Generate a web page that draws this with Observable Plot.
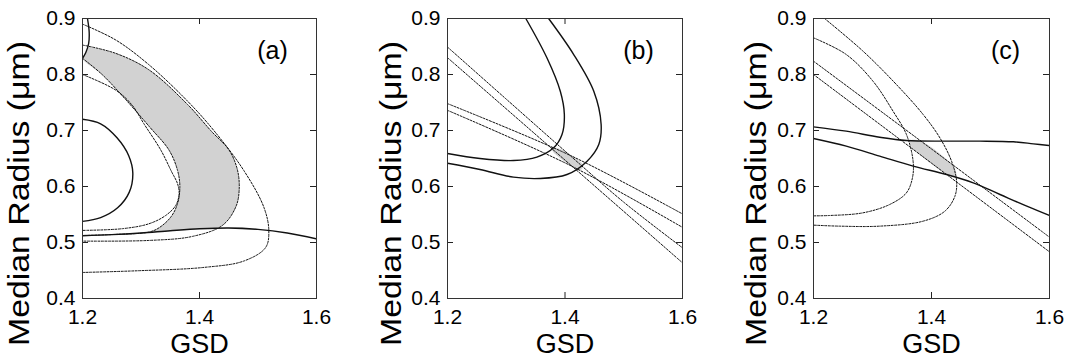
<!DOCTYPE html>
<html><head><meta charset="utf-8">
<script src="https://cdn.jsdelivr.net/npm/d3@7"></script>
<script src="https://cdn.jsdelivr.net/npm/@observablehq/plot@0.6"></script>
<style>
body{margin:0;background:#fff;}
#wrap{position:relative;width:1068px;height:364px;overflow:hidden;}
.panel{position:absolute;top:0;}
</style></head><body><div id="wrap"></div>
<script>
const xTicks = [1.2, 1.4, 1.6];
const yTicks = [0.4, 0.5, 0.6, 0.7, 0.8, 0.9];
const xLabel = "GSD";
const yLabel = "Median Radius (μm)";
const panelLabels = ["(a)", "(b)", "(c)"];

// ---- panel (a) ----
const aSolidEllipse = [[1.2,0.72],[1.231,0.712],[1.259,0.687],[1.279,0.655],[1.286,0.624],[1.28,0.59],[1.26,0.562],[1.231,0.5445],[1.2,0.5378]];
const aSolidArc = [[1.2085,0.9],[1.2114,0.876],[1.2105,0.855],[1.2055,0.839],[1.2,0.829]];
const aSolidLow = [[1.2,0.512],[1.25,0.514],[1.3,0.517],[1.35,0.521],[1.4,0.5245],[1.45,0.526],[1.5,0.5235],[1.55,0.517],[1.6,0.5065]];
const aDashA = [[1.2,0.890],[1.257,0.8615],[1.314,0.817],[1.38,0.752],[1.4245,0.700],[1.4758,0.6285],[1.51,0.563],[1.5185,0.521],[1.513,0.491],[1.476,0.467],[1.4074,0.4555],[1.2934,0.4495],[1.2,0.4465]];
const aDashB = [[1.2,0.8526],[1.257,0.8377],[1.314,0.808],[1.38,0.746],[1.42,0.699],[1.4507,0.6648],[1.465,0.629],[1.4678,0.5933],[1.462,0.5634],[1.4393,0.5306],[1.388,0.5109],[1.314,0.5037],[1.2,0.5025]];
const aDashC = [[1.2,0.829],[1.234,0.7995],[1.274,0.755],[1.315,0.706],[1.348,0.6648],[1.3624,0.629],[1.3664,0.5992],[1.3624,0.5694],[1.351,0.5455],[1.331,0.5264],[1.314,0.5187],[1.257,0.5145],[1.2,0.5125]];
const aDashD = [[1.2,0.80],[1.257,0.772],[1.285,0.745],[1.305,0.712],[1.334,0.6648],[1.352,0.627],[1.3624,0.6051],[1.3652,0.5873],[1.3595,0.5664],[1.3425,0.5485],[1.314,0.5336],[1.2684,0.5247],[1.2,0.5216]];
const aGrey = [[1.2105,0.849],[1.257,0.8377],[1.314,0.808],[1.38,0.746],[1.42,0.699],[1.4507,0.6648],[1.465,0.629],[1.4678,0.5933],[1.462,0.5634],[1.4393,0.5306],[1.4308,0.5265],[1.4,0.5245],[1.35,0.521],[1.314,0.5187],[1.331,0.5264],[1.351,0.5455],[1.3624,0.5694],[1.3664,0.5992],[1.3624,0.629],[1.348,0.6648],[1.315,0.706],[1.274,0.755],[1.234,0.7995],[1.2,0.829],[1.2055,0.839]];

// ---- panel (b) ----
const bSolidInner = [[1.3333,0.9],[1.3692,0.8298],[1.392,0.770],[1.3989,0.7286],[1.3949,0.6929],[1.3806,0.669],[1.3521,0.6524],[1.3123,0.6464],[1.2553,0.65],[1.2,0.659]];
const bSolidOuter = [[1.3721,0.9],[1.4148,0.8357],[1.449,0.770],[1.4615,0.7107],[1.4575,0.675],[1.4376,0.6452],[1.4034,0.6214],[1.3578,0.6143],[1.3123,0.6167],[1.2553,0.6304],[1.2,0.6415]];
const bDashA = [[1.2,0.849],[1.3,0.756],[1.41,0.654],[1.5,0.572],[1.6,0.4905]];
const bDashB = [[1.2,0.830],[1.41,0.638],[1.6,0.4637]];
const bDashC = [[1.2,0.748],[1.41,0.655],[1.6,0.551]];
const bDashD = [[1.2,0.736],[1.41,0.637],[1.6,0.527]];
const bGrey = [[1.374,0.671],[1.392,0.667],[1.431,0.6375],[1.425,0.629],[1.381,0.660]];

// ---- panel (c) ----
const cSolidUpper = [[1.2,0.7065],[1.2555,0.6988],[1.3122,0.688],[1.3575,0.6821],[1.4255,0.681],[1.4822,0.681],[1.5388,0.6798],[1.5728,0.6762],[1.6,0.6732]];
const cSolidLower = [[1.2,0.6857],[1.2555,0.672],[1.3122,0.6542],[1.3688,0.6363],[1.4255,0.6214],[1.4708,0.6065],[1.5161,0.5857],[1.5615,0.5649],[1.6,0.5482]];
const cDashU1 = [[1.2,0.8655],[1.2555,0.8357],[1.3008,0.7881],[1.3348,0.7345],[1.3575,0.6929],[1.3688,0.6452],[1.3677,0.6155],[1.3575,0.5887],[1.3292,0.5679],[1.2839,0.553],[1.2272,0.5482],[1.2,0.5476]];
const cDashU2 = [[1.2187,0.9],[1.2839,0.8417],[1.3405,0.7821],[1.3858,0.7286],[1.4142,0.6869],[1.434,0.6452],[1.4425,0.6095],[1.4397,0.5827],[1.4227,0.556],[1.3858,0.5381],[1.3122,0.5292],[1.2442,0.5292],[1.2,0.531]];
const cDashL1 = [[1.2,0.8238],[1.4,0.667],[1.6,0.5095]];
const cDashL2 = [[1.2,0.80],[1.4,0.6417],[1.6,0.4833]];
const cGrey = [[1.361,0.6823],[1.380,0.6822],[1.4395,0.632],[1.441,0.6175],[1.428,0.6205],[1.368,0.667]];

const panels = [
  {left:0, ml:82, mr:40, ylx:-63, label:panelLabels[0], grey:aGrey, solid:[aSolidEllipse,aSolidArc,aSolidLow], dash:[aDashA,aDashB,aDashC,aDashD]},
  {left:356, ml:91, mr:30, ylx:-56, label:panelLabels[1], grey:bGrey, solid:[bSolidInner,bSolidOuter], dash:[bDashA,bDashB,bDashC,bDashD]},
  {left:712, ml:101, mr:19, ylx:-57, label:panelLabels[2], grey:cGrey, solid:[cSolidUpper,cSolidLower], dash:[cDashU1,cDashU2,cDashL1,cDashL2]}
];

const W = 356, H = 364, MT = 18, MB = 66;
const fmt = d3.format(".1f");
const px = d => d[0], py = d => d[1];

for (const p of panels) {
  const innerW = W - p.ml - p.mr, innerH = H - MT - MB, tk = 6;
  const marks = [
    Plot.line(p.grey, {x:px, y:py, curve:"catmull-rom", fill:"#d2d2d2", stroke:"none", clip:true}),
    ...p.dash.map(c => Plot.line(c, {x:px, y:py, curve:"catmull-rom", stroke:"#111", strokeWidth:1, strokeDasharray:"2,1.5", clip:true})),
    ...p.solid.map(c => Plot.line(c, {x:px, y:py, curve:"catmull-rom", stroke:"#111", strokeWidth:1.4, clip:true})),
    Plot.tickX(xTicks, {x:d=>d, insetTop:innerH-tk, stroke:"#222"}),
    Plot.tickX(xTicks, {x:d=>d, insetBottom:innerH-tk, stroke:"#222"}),
    Plot.tickY(yTicks, {y:d=>d, insetRight:innerW-tk, stroke:"#222"}),
    Plot.tickY(yTicks, {y:d=>d, insetLeft:innerW-tk, stroke:"#222"}),
    Plot.frame({stroke:"#333", strokeWidth:1}),
    Plot.axisX({ticks:xTicks, tickSize:0, tickPadding:11, tickFormat:fmt, fontSize:21, label:null}),
    Plot.axisY({ticks:yTicks, tickSize:0, tickPadding:7, tickFormat:fmt, fontSize:21, label:null}),
    Plot.text([p.label], {text:d=>d, frameAnchor:"top-right", dx:-44, dy:32, fontSize:25, textAnchor:"middle", lineAnchor:"middle"}),
    Plot.text([xLabel], {text:d=>d, frameAnchor:"bottom", dy:46, fontSize:27, textAnchor:"middle", lineAnchor:"middle"}),
    Plot.text([yLabel], {text:d=>d, frameAnchor:"left", dx:p.ylx, dy:35, rotate:-90, fontSize:29, textAnchor:"middle", lineAnchor:"middle"})
  ];
  const chart = Plot.plot({
    width: W, height: H, marginLeft: p.ml, marginRight: p.mr, marginTop: MT, marginBottom: MB,
    x: {domain:[1.2,1.6]},
    y: {domain:[0.4,0.9]},
    style: {fontFamily:"Arial, 'Liberation Sans', sans-serif", fontSize:"21px", color:"#000", background:"#fff", overflow:"visible"},
    marks
  });
  d3.select(chart).selectAll("text").filter(function(){ return this.textContent === yLabel; })
    .attr("textLength", 305).attr("lengthAdjust", "spacingAndGlyphs");
  const div = document.createElement("div");
  div.className = "panel";
  div.style.left = p.left + "px";
  div.appendChild(chart);
  document.getElementById("wrap").appendChild(div);
}
</script>
</body></html>
